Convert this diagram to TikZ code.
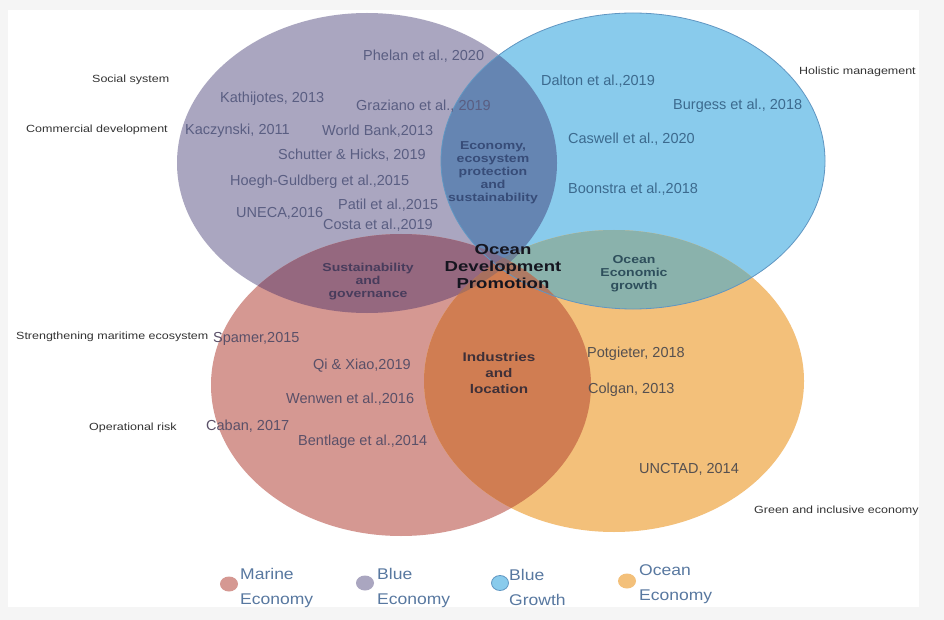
\documentclass[tikz,border=0pt]{standalone}
\usepackage{fontspec}
\setmainfont{Liberation Sans}
\newfontfamily\reffont{Liberation Sans}
\newfontfamily\lblfont{Liberation Sans}[FakeStretch=1.2]
\newfontfamily\bfam{Liberation Sans}[FakeStretch=1.22]
\newfontfamily\bigfam{Liberation Sans}[FakeStretch=1.28]
\newfontfamily\legfam{Liberation Sans}[FakeStretch=1.13]
\definecolor{bgout}{HTML}{F5F5F5}
\definecolor{cP}{HTML}{AAA6C0}
\definecolor{cB}{HTML}{89CBEC}
\definecolor{cBline}{HTML}{6096C2}
\definecolor{cR}{HTML}{D59892}
\definecolor{cO}{HTML}{F3C07A}
\definecolor{cPB}{HTML}{6585B2}
\definecolor{cPR}{HTML}{95687F}
\definecolor{cRO}{HTML}{D07D52}
\definecolor{cBO}{HTML}{8AB2AC}
\definecolor{cPBR}{HTML}{7A6E8E}
\definecolor{cPBO}{HTML}{6E8398}
\definecolor{cPRO}{HTML}{A8705E}
\definecolor{cBRO}{HTML}{AE7A64}
\definecolor{cAll}{HTML}{8C6E72}
\definecolor{tP}{HTML}{5A5E82}
\definecolor{tB}{HTML}{3C6A8E}
\definecolor{tR}{HTML}{5A5068}
\definecolor{tO}{HTML}{555050}
\definecolor{tLbl}{HTML}{333333}
\definecolor{tLeg}{HTML}{5878A0}
\definecolor{tI1}{HTML}{374C78}
\definecolor{tI2}{HTML}{483C5C}
\definecolor{tI3}{HTML}{2E4F5C}
\definecolor{tI4}{HTML}{3E3038}
\definecolor{tI5}{HTML}{15151F}
\tikzset{
  refl/.style={font=\reffont\fontsize{14.5}{17}\selectfont, inner sep=0pt, anchor=west},
  outl/.style={font=\lblfont\fontsize{10.4}{12}\selectfont, inner sep=0pt, anchor=west, text=tLbl},
  inl/.style={font=\bfam\bfseries\fontsize{11.5}{13}\selectfont, inner sep=0pt, align=center},
  leg/.style={font=\legfam\fontsize{15.5}{25}\selectfont, inner sep=0pt, anchor=west, align=left, text=tLeg}
}
\begin{document}
\begin{tikzpicture}[x=1pt,y=-1pt]
\useasboundingbox (0,0) rectangle (944,620);
\fill[bgout] (0,0) rectangle (944,620);
\fill[white] (8,10) rectangle (919,607);
% base ellipses
\fill[cP] (367,163) ellipse [x radius=190, y radius=150];
\fill[cB] (633,161) ellipse [x radius=192, y radius=148];
\fill[cR] (401,385) ellipse [x radius=190, y radius=151];
\fill[cO] (614,381) ellipse [x radius=190, y radius=151];
% pairwise overlaps
\begin{scope}
  \clip (367,163) ellipse [x radius=190, y radius=150];
  \fill[cPR] (401,385) ellipse [x radius=190, y radius=151];
\end{scope}
\begin{scope}
  \clip (633,161) ellipse [x radius=192, y radius=148];
  \fill[cBO] (614,381) ellipse [x radius=190, y radius=151];
\end{scope}
\begin{scope}
  \clip (401,385) ellipse [x radius=190, y radius=151];
  \fill[cRO] (614,381) ellipse [x radius=190, y radius=151];
\end{scope}
\begin{scope}
  \clip (367,163) ellipse [x radius=190, y radius=150];
  \fill[cPB] (633,161) ellipse [x radius=192, y radius=148];
\end{scope}
% triple overlaps
\begin{scope}
  \clip (367,163) ellipse [x radius=190, y radius=150];
  \clip (633,161) ellipse [x radius=192, y radius=148];
  \fill[cPBR] (401,385) ellipse [x radius=190, y radius=151];
\end{scope}
\begin{scope}
  \clip (367,163) ellipse [x radius=190, y radius=150];
  \clip (633,161) ellipse [x radius=192, y radius=148];
  \fill[cPBO] (614,381) ellipse [x radius=190, y radius=151];
\end{scope}
\begin{scope}
  \clip (367,163) ellipse [x radius=190, y radius=150];
  \clip (401,385) ellipse [x radius=190, y radius=151];
  \fill[cPRO] (614,381) ellipse [x radius=190, y radius=151];
\end{scope}
\begin{scope}
  \clip (633,161) ellipse [x radius=192, y radius=148];
  \clip (401,385) ellipse [x radius=190, y radius=151];
  \fill[cBRO] (614,381) ellipse [x radius=190, y radius=151];
\end{scope}
\begin{scope}
  \clip (367,163) ellipse [x radius=190, y radius=150];
  \clip (633,161) ellipse [x radius=192, y radius=148];
  \clip (401,385) ellipse [x radius=190, y radius=151];
  \fill[cAll] (614,381) ellipse [x radius=190, y radius=151];
\end{scope}
\draw[cBline, line width=0.8pt] (633,161) ellipse [x radius=192, y radius=148];

% outside labels
\node[outl] (l1) at (92,80) {Social system};
\node[outl] (l2) at (26,130) {Commercial development};
\node[outl] (l3) at (799,72) {Holistic management};
\node[outl] (l4) at (16,337) {Strengthening maritime ecosystem};
\node[outl] (l5) at (89,428) {Operational risk};
\node[outl] (l6) at (754,511) {Green and inclusive economy};

% references, Blue Economy
\node[refl, text=tP] (r1) at (363,56) {Phelan et al., 2020};
\node[refl, text=tP] (r2) at (220,99) {Kathijotes, 2013};
\node[refl, text=tP] (r3) at (356,106) {Graziano et al., 2019};
\node[refl, text=tP] (r4) at (185,131) {Kaczynski, 2011};
\node[refl, text=tP] (r5) at (322,131) {World Bank,2013};
\node[refl, text=tP] (r6) at (278,155) {Schutter \& Hicks, 2019};
\node[refl, text=tP] (r7) at (230,182) {Hoegh-Guldberg et al.,2015};
\node[refl, text=tP] (r8) at (338,205) {Patil et al.,2015};
\node[refl, text=tP] (r9) at (236,213) {UNECA,2016};
\node[refl, text=tP] (r10) at (323,225) {Costa et al.,2019};
% Blue Growth
\node[refl, text=tB] (r11) at (541,81) {Dalton et al.,2019};
\node[refl, text=tB] (r12) at (673,106) {Burgess et al., 2018};
\node[refl, text=tB] (r13) at (568,139) {Caswell et al., 2020};
\node[refl, text=tB] (r14) at (568,189) {Boonstra et al.,2018};
% Marine Economy
\node[refl, text=tR] (r15) at (213,339) {Spamer,2015};
\node[refl, text=tR] (r16) at (313,366) {Qi \& Xiao,2019};
\node[refl, text=tR] (r17) at (286,399) {Wenwen et al.,2016};
\node[refl, text=tR] (r18) at (206,426) {Caban, 2017};
\node[refl, text=tR] (r19) at (298,442) {Bentlage et al.,2014};
% Ocean Economy
\node[refl, text=tO] (r20) at (587,354) {Potgieter, 2018};
\node[refl, text=tO] (r21) at (588,390) {Colgan, 2013};
\node[refl, text=tO] (r22) at (639,469) {UNCTAD, 2014};

% overlap labels
\node[inl, text=tI1] (i1) at (493,173) {Economy,\\ecosystem\\protection\\and\\sustainability};
\node[inl, text=tI2] (i2) at (368,282) {Sustainability\\and\\governance};
\node[inl, text=tI3] (i3) at (634,274) {Ocean\\Economic\\growth};
\node[inl, text=tI4, font=\bfam\bfseries\fontsize{12.5}{16}\selectfont] (i4) at (499,373) {Industries\\and\\location};
\node[inl, text=tI5, font=\bigfam\bfseries\fontsize{14.5}{17}\selectfont] (i5) at (503,267) {Ocean\\Development\\Promotion};

% legend
\fill[cR] (229,584) ellipse [x radius=9, y radius=7.5];
\fill[cP] (365,583) ellipse [x radius=9, y radius=7.5];
\fill[cB] (500,583) ellipse [x radius=8.5, y radius=7.5];
\draw[cBline, line width=0.8pt] (500,583) ellipse [x radius=8.5, y radius=7.5];
\fill[cO] (627,581) ellipse [x radius=9, y radius=7.5];
\node[leg] (g1) at (240,588) {Marine\\Economy};
\node[leg] (g2) at (377,588) {Blue\\Economy};
\node[leg] (g3) at (509,587) {Blue\\Growth};
\node[leg] (g4) at (639,584) {Ocean\\Economy};
\end{tikzpicture}
\end{document}
